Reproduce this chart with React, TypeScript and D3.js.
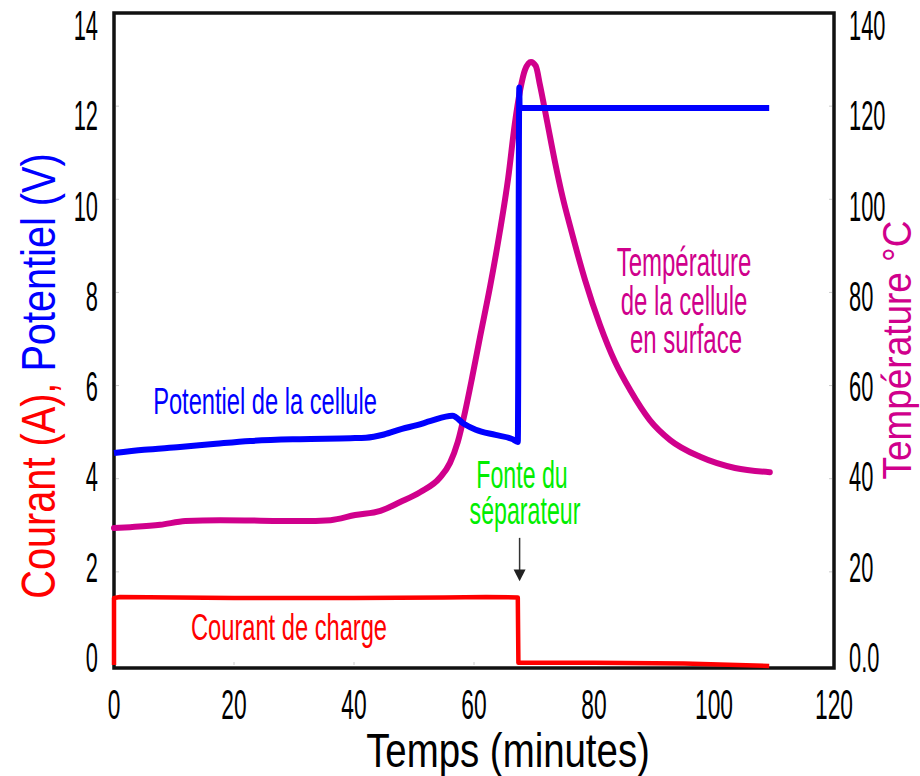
import React from "react";
import * as d3 from "d3";

// Potentiel de la cellule (V)
const potTime = [0, 5, 11, 17, 22.7, 31, 39.4, 42, 45, 48, 50.5, 52.8, 56.4, 58.3, 60.3, 63.6, 66.4, 67.3, 67.55, 67.6, 109.2];
const potValue = [4.55, 4.62, 4.68, 4.75, 4.81, 4.85, 4.87, 4.88, 4.95, 5.07, 5.15, 5.24, 5.35, 5.18, 5.05, 4.94, 4.85, 4.79, 12.4, 11.96, 11.96];

// Température de la cellule en surface (°C)
const tempTime = [0, 2.7, 7.7, 11.9, 17.7, 31.1, 36.1, 40.2, 44.4, 47.7, 51.0, 54.3, 56.0, 57.3, 58.5, 59.7, 61.0, 62.7, 64.3, 65.7, 66.8, 67.7, 68.5, 69.5, 70.3, 71.0, 72.2, 73.5, 74.8, 76.0, 78.5, 81.0, 83.5, 86.0, 89.3, 92.7, 97.7, 103.5, 109.3];
const tempValue = [29.4, 29.6, 30.1, 30.9, 31.1, 30.9, 31.1, 32.2, 33.1, 35.0, 37.1, 40.2, 43.4, 47.9, 54.3, 61.8, 70.4, 81.4, 93.0, 104.6, 116.2, 123.5, 127.8, 129.5, 128.6, 124.5, 116.6, 108.0, 100.3, 94.3, 82.7, 73.0, 65.1, 59.1, 52.6, 48.3, 44.7, 42.3, 41.4];

// Courant de charge (A)
const curTime = [0, 0, 1, 20, 40, 55, 62, 67.3, 67.4, 80, 95, 109.2];
const curValue = [0, 1.44, 1.46, 1.44, 1.44, 1.45, 1.46, 1.45, 0.05, 0.05, 0.03, -0.02];

const xTicks = [0, 20, 40, 60, 80, 100, 120];
const leftTicks = [0, 2, 4, 6, 8, 10, 12, 14];
const rightTicks = [0, 20, 40, 60, 80, 100, 120, 140];
const separatorTime = 67.6;

const FONT = "'Liberation Sans', Arial, sans-serif";
const MAGENTA = "#d0008c";

// narrow text: the picture's lettering is squeezed horizontally
const NText = ({ x, y, size, sx, anchor = "middle", fill = "#000", rotate = 0, children }: any) => (
  <text
    transform={`translate(${x},${y}) rotate(${rotate}) scale(${sx},1)`}
    fontSize={size}
    fontFamily={FONT}
    textAnchor={anchor}
    fill={fill}
  >
    {children}
  </text>
);

export default function App() {
  const width = 920;
  const height = 776;

  const x = d3.scaleLinear().domain([0, 120]).range([114, 834]);
  const y = d3.scaleLinear().domain([0, 14]).range([665, 13]);
  const yT = d3.scaleLinear().domain([0, 140]).range([665, 13]);
  // tick labels sit a little tighter than the ticks in the original
  const labelY = d3.scaleLinear().domain([0, 14]).range([657, 25]);

  const pot = potTime.map((t, i) => [t, potValue[i]] as [number, number]);
  const temp = tempTime.map((t, i) => [t, tempValue[i]] as [number, number]);
  const cur = curTime.map((t, i) => [t, curValue[i]] as [number, number]);

  const lineI = d3.line<[number, number]>().x(d => x(d[0])).y(d => y(d[1]));
  const lineV = d3.line<[number, number]>().x(d => x(d[0])).y(d => y(d[1])).curve(d3.curveMonotoneX);
  const lineT = d3.line<[number, number]>().x(d => x(d[0])).y(d => yT(d[1])).curve(d3.curveMonotoneX);

  const ax = x(separatorTime);

  return (
    <svg width={width} height={height} style={{ position: "absolute", left: 0, top: 0, background: "#fff" }}>
      {/* frame */}
      <rect x={x(0)} y={y(14)} width={x(120) - x(0)} height={y(0) - y(14) + 3}
        fill="none" stroke="#111" strokeWidth={3.5} />
      {leftTicks.slice(1, -1).map(v => (
        <g key={"t" + v}>
          <line x1={x(0) + 2} x2={x(0) + 5} y1={y(v)} y2={y(v)} stroke="#ccc" />
          <line x1={x(120) - 2} x2={x(120) - 5} y1={y(v)} y2={y(v)} stroke="#ccc" />
        </g>
      ))}
      {xTicks.slice(1, -1).map(v => (
        <line key={"xt" + v} x1={x(v)} x2={x(v)} y1={y(0)} y2={y(0) - 3} stroke="#ccc" />
      ))}

      {/* tick labels */}
      {leftTicks.map(v => (
        <NText key={"l" + v} x={98} y={labelY(v) + 15} size={42} sx={0.52} anchor="end">{v}</NText>
      ))}
      {rightTicks.map(v => (
        <NText key={"r" + v} x={849} y={labelY(v / 10) + 15} size={42} sx={0.52} anchor="start">
          {v === 0 ? "0.0" : v}
        </NText>
      ))}
      {xTicks.map(v => (
        <NText key={"x" + v} x={x(v)} y={719} size={43} sx={0.53}>{v}</NText>
      ))}

      {/* axis titles */}
      <NText x={508} y={767} size={48} sx={0.8}>Temps (minutes)</NText>
      <text transform={`translate(55,376) rotate(-90) scale(0.81,1)`} fontSize={49} fontFamily={FONT} textAnchor="middle">
        <tspan fill="#ff0000">Courant (A), </tspan>
        <tspan fill="#0000ff">Potentiel (V)</tspan>
      </text>
      <NText x={911} y={350} size={41} sx={0.9} rotate={-90} fill={MAGENTA}>Température °C</NText>

      {/* series */}
      <path d={lineI(cur) ?? ""} fill="none" stroke="#ff0000" strokeWidth={4.5} strokeLinejoin="round" />
      <path d={lineT(temp) ?? ""} fill="none" stroke={MAGENTA} strokeWidth={6} strokeLinejoin="round" strokeLinecap="round" />
      <path d={lineV(pot) ?? ""} fill="none" stroke="#0000ff" strokeWidth={6} strokeLinejoin="round" />

      {/* annotations */}
      <NText x={265} y={414} size={37} sx={0.64} fill="#0000ff">Potentiel de la cellule</NText>
      <NText x={289} y={640} size={37} sx={0.64} fill="#ff0000">Courant de charge</NText>
      <NText x={684} y={276} size={40} sx={0.6} fill={MAGENTA}>Température</NText>
      <NText x={684} y={315} size={40} sx={0.6} fill={MAGENTA}>de la cellule</NText>
      <NText x={686} y={353} size={40} sx={0.6} fill={MAGENTA}>en surface</NText>
      <NText x={522} y={488} size={38} sx={0.61} fill="#00ee00">Fonte du</NText>
      <NText x={525} y={524} size={38} sx={0.61} fill="#00ee00">séparateur</NText>
      <line x1={ax} x2={ax} y1={y(2.73)} y2={y(2.0)} stroke="#333" strokeWidth={1.5} />
      <polygon points={`${ax - 6},${y(2.05)} ${ax + 6},${y(2.05)} ${ax},${y(1.8)}`} fill="#222" />
    </svg>
  );
}
